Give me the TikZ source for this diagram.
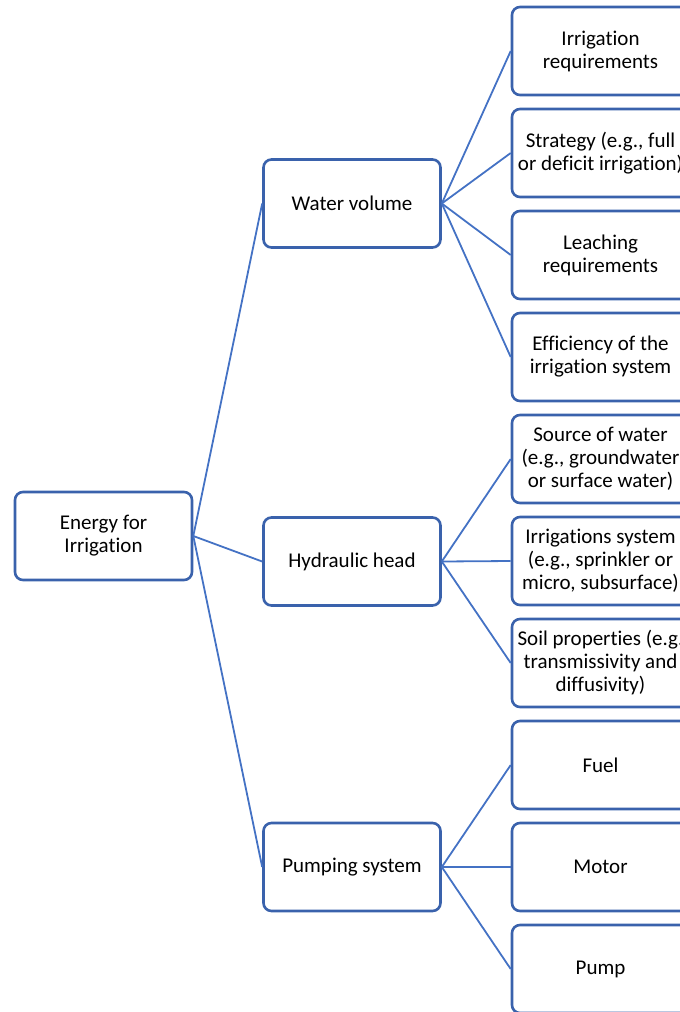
\documentclass[tikz,border=0pt]{standalone}
\usepackage{fontspec}
\setmainfont{Carlito}[Ligatures={NoCommon}]
\definecolor{boxblue}{RGB}{58,98,172}
\definecolor{lineblue}{RGB}{68,114,196}
\begin{document}
\begin{tikzpicture}[x=1pt,y=-1pt,
  box/.style={draw=boxblue, line width=2.6pt, rounded corners=8pt, fill=white,
    minimum width=177pt, minimum height=88pt, align=center, inner sep=0pt,
    font=\fontsize{21}{23}\selectfont},
  link/.style={draw=lineblue, line width=1.8pt}]
\useasboundingbox (0,0) rectangle (680,1012);
\clip (0,0) rectangle (680,1012);
\node[box] (root) at (103.5,536) {Energy for\\Irrigation};
\node[box] (wv) at (352,203.5) {Water volume};
\node[box] (hh) at (352,561.5) {Hydraulic head};
\node[box] (ps) at (352,867) {Pumping system};
\node[box] (r1) at (600.5,51) {Irrigation\\requirements};
\node[box] (r2) at (600.5,153) {Strategy (e.g., full\\or deficit irrigation)};
\node[box] (r3) at (600.5,255) {Leaching\\requirements};
\node[box] (r4) at (600.5,357) {Efficiency of the\\irrigation system};
\node[box] (r5) at (600.5,459) {Source of water\\(e.g., groundwater\\or surface water)};
\node[box] (r6) at (600.5,561) {Irrigations system\\(e.g., sprinkler or\\micro, subsurface)};
\node[box] (r7) at (600.5,663) {Soil properties (e.g.\\transmissivity and\\diffusivity)};
\node[box] (r8) at (600.5,765) {Fuel};
\node[box] (r9) at (600.5,867) {Motor};
\node[box] (r10) at (600.5,969) {Pump};
\foreach \m in {wv,hh,ps} \draw[link] (root.east) -- (\m.west);
\foreach \r in {r1,r2,r3,r4} \draw[link] (wv.east) -- (\r.west);
\foreach \r in {r5,r6,r7} \draw[link] (hh.east) -- (\r.west);
\foreach \r in {r8,r9,r10} \draw[link] (ps.east) -- (\r.west);
\end{tikzpicture}
\end{document}
